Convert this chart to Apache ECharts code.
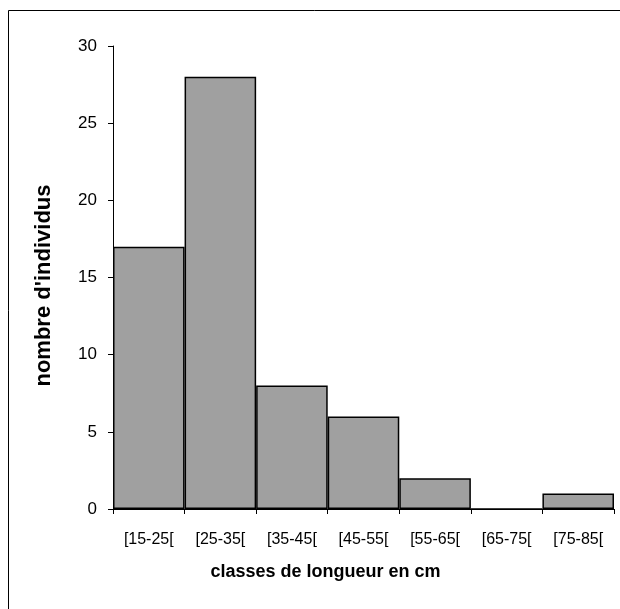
<!DOCTYPE html>
<html><head><meta charset="utf-8">
<script src="https://cdn.jsdelivr.net/npm/echarts@6/dist/echarts.min.js"></script>
<style>html,body{margin:0;padding:0;background:#fff}#c{width:620px;height:609px}</style>
</head><body><div id="c"></div>
<script>
const categories = ['[15-25[', '[25-35[', '[35-45[', '[45-55[', '[55-65[', '[65-75[', '[75-85['];
const counts = [17, 28, 8, 6, 2, 0, 1];
const yTicks = {min: 0, max: 30, interval: 5};

const chart = echarts.init(document.getElementById('c'), null, {renderer: 'canvas'});
chart.setOption({
  animation: false,
  graphic: [{type: 'rect', shape: {x: 8.5, y: 10.5, width: 700, height: 700}, style: {fill: 'none', stroke: '#000', lineWidth: 1}, z: -1}],
  grid: {left: 113, right: 6, top: 46, bottom: 100, containLabel: false},
  xAxis: {
    type: 'category', data: categories, boundaryGap: true,
    axisLine: {lineStyle: {color: '#000', width: 1}},
    axisTick: {show: true, length: 5, interval: 0, lineStyle: {color: '#000'}},
    axisLabel: {interval: 0, color: '#000', fontFamily: 'Liberation Sans, Arial', fontSize: 16, margin: 23},
    name: 'classes de longueur en cm', nameLocation: 'middle', nameGap: 54,
    nameTextStyle: {fontFamily: 'Liberation Sans, Arial', fontWeight: 'bold', fontSize: 18, color: '#000', padding: [0, 76, 0, 0]}
  },
  yAxis: {
    type: 'value', min: yTicks.min, max: yTicks.max, interval: yTicks.interval,
    splitLine: {show: false},
    axisLine: {show: true, lineStyle: {color: '#000', width: 1}},
    axisTick: {show: true, length: 5, lineStyle: {color: '#000'}},
    axisLabel: {color: '#000', fontFamily: 'Liberation Sans, Arial', fontSize: 17, margin: 16},
    name: "nombre d'individus", nameLocation: 'middle', nameGap: 58,
    nameTextStyle: {fontFamily: 'Liberation Sans, Arial', fontWeight: 'bold', fontSize: 22, color: '#000', padding: [0, 16, 0, 0]}
  },
  series: [{
    type: 'bar', data: counts, barWidth: '100%', barGap: '0%',
    itemStyle: {color: '#a0a0a0', borderColor: '#000', borderWidth: 1.5},
    emphasis: {disabled: true}
  }]
});
</script></body></html>
